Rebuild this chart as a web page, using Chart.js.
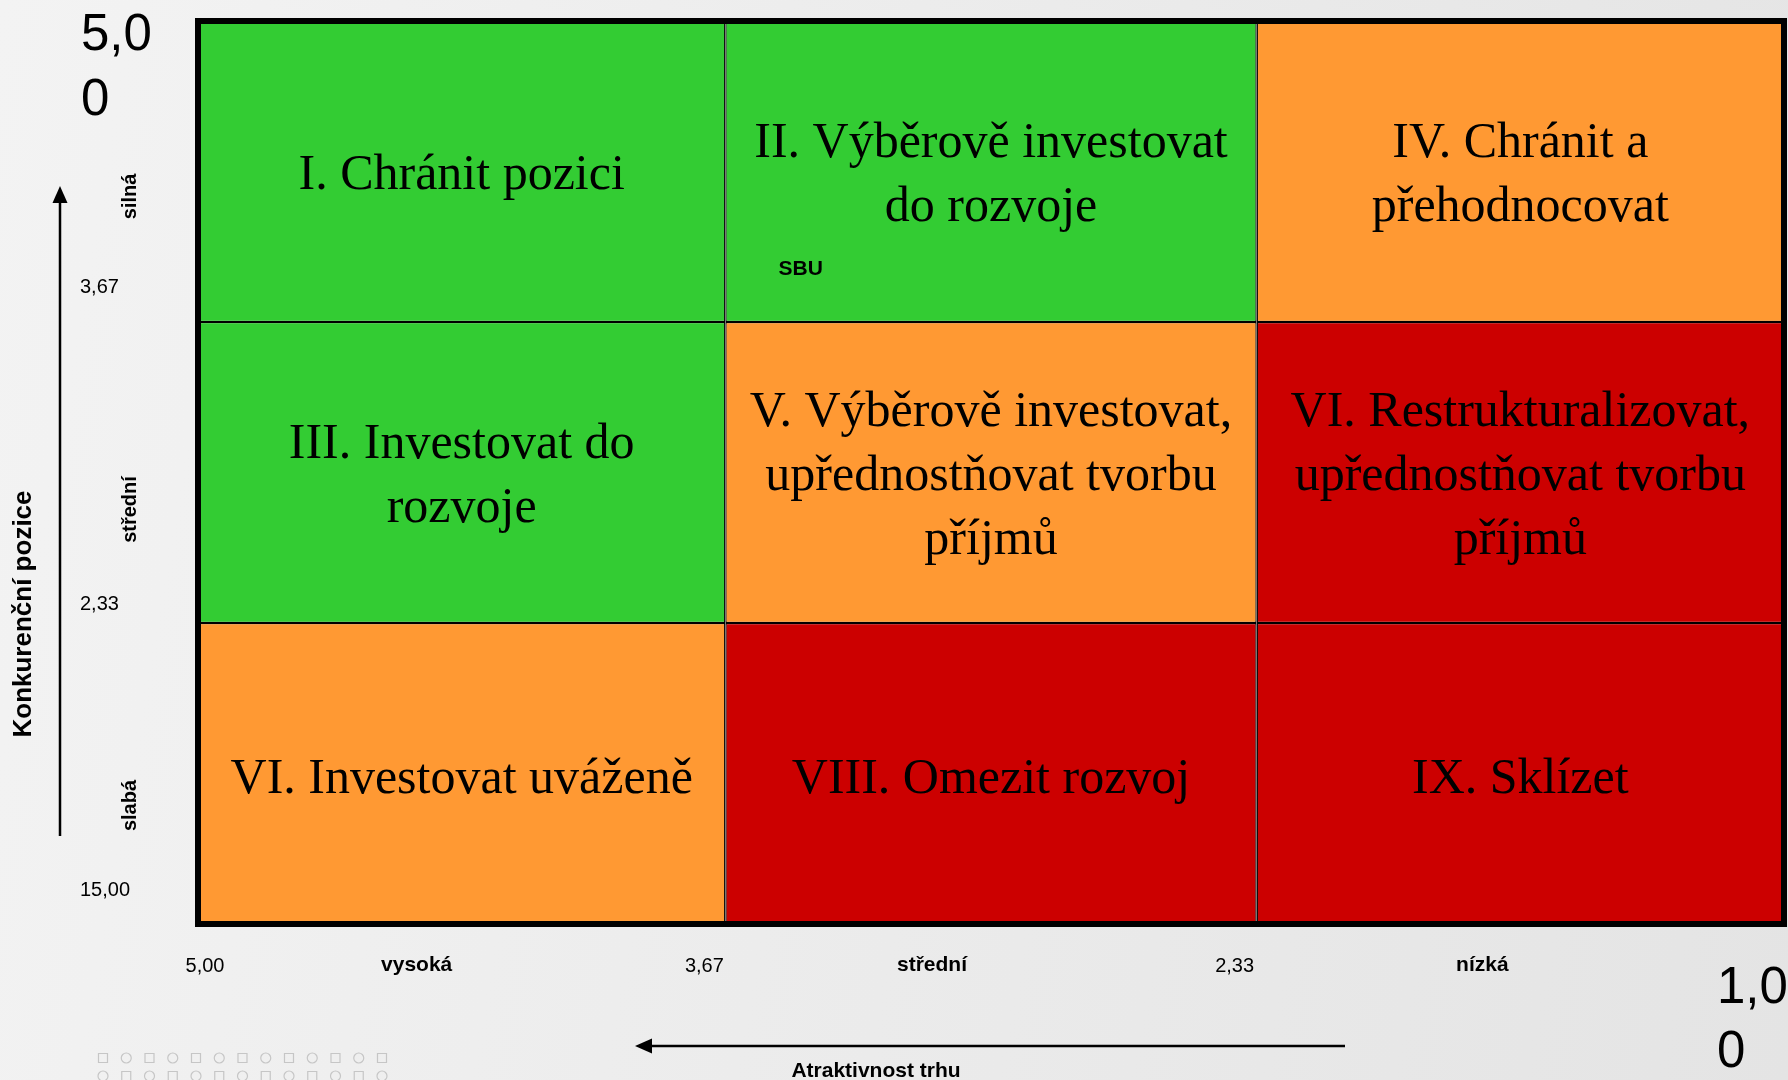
<!DOCTYPE html>
<html><head><meta charset="utf-8">
<script src="https://cdn.jsdelivr.net/npm/chart.js@4/dist/chart.umd.min.js"></script>
<style>
html,body{margin:0;padding:0;width:1788px;height:1080px;overflow:hidden;
background:linear-gradient(100deg,#f3f3f3 0%,#e4e4e4 100%);}
#wrap{position:absolute;left:0;top:0;width:1788px;height:1080px;}
</style></head><body><div id="wrap"><canvas id="c"></canvas></div>
<script>
// ---- data ----
const rowLabels = ['silná','střední','slabá'];          // Konkurenční pozice (top → bottom)
const colLabels = ['vysoká','střední','nízká'];         // Atraktivnost trhu (left → right)
const xEdges = [5, 3.67, 2.33, 1];
const yEdges = [5, 3.67, 2.33, 1];
const xTickLabels = ['5,00','3,67','2,33','1,00'];
const yTickLabels = ['5,00','3,67','2,33','15,00'];
const cellColors = [
  ['#33CC33','#33CC33','#FF9933'],
  ['#33CC33','#FF9933','#CC0000'],
  ['#FF9933','#CC0000','#CC0000']
];
const cellTexts = [
  [['I. Chránit pozici'], ['II. Výběrově investovat','do rozvoje'], ['IV. Chránit a','přehodnocovat']],
  [['III. Investovat do','rozvoje'], ['V. Výběrově investovat,','upřednostňovat tvorbu','příjmů'], ['VI. Restrukturalizovat,','upřednostňovat tvorbu','příjmů']],
  [['VI. Investovat uváženě'], ['VIII. Omezit rozvoj'], ['IX. Sklízet']]
];
const sbuPoints = [{x: 3.48, y: 3.90}];
const sbuLabel = 'SBU';
const xTitle = 'Atraktivnost trhu';
const yTitle = 'Konkurenční pozice';

// ---- datasets ----
const datasets = colLabels.map((c, ci) => ({
  type: 'bar', label: c, indexAxis: 'y', xAxisID: 'x', yAxisID: 'y',
  data: rowLabels.map(() => [xEdges[ci], xEdges[ci + 1]]),
  backgroundColor: cellColors.map(r => r[ci]),
  borderColor: '#000', borderWidth: 1.3, borderSkipped: false,
  barPercentage: 1, categoryPercentage: 1, grouped: false, inflateAmount: 0
}));
datasets.push({type: 'scatter', label: sbuLabel, data: sbuPoints, xAxisID: 'x', yAxisID: 'yv',
  pointRadius: 0, showLine: false});

const SANS = '"Liberation Sans", Arial, sans-serif';
const SERIF = '"Liberation Serif", "Times New Roman", serif';

function wrapText(ctx, text, maxW) {
  const lines = []; let cur = '';
  for (const ch of text) {
    if (cur && ctx.measureText(cur + ch).width > maxW) { lines.push(cur); cur = ch; }
    else cur += ch;
  }
  if (cur) lines.push(cur);
  return lines;
}

const matrixPlugin = {
  id: 'matrix',
  afterDatasetsDraw(chart) {
    const ctx = chart.ctx, a = chart.chartArea;
    ctx.save();
    // cell labels
    ctx.fillStyle = '#000';
    ctx.font = '50px ' + SERIF;
    ctx.textAlign = 'center'; ctx.textBaseline = 'middle';
    colLabels.forEach((c, ci) => {
      chart.getDatasetMeta(ci).data.forEach((el, ri) => {
        const cx = (el.x + el.base) / 2, cy = el.y + 4 + (ri === 2 ? 2 : 0);
        const lines = cellTexts[ri][ci], lh = 64;
        lines.forEach((t, i) => ctx.fillText(t, cx, cy + (i - (lines.length - 1) / 2) * lh));
      });
    });
    // outer frame
    ctx.lineWidth = 6; ctx.strokeStyle = '#000';
    ctx.strokeRect(a.left, a.top, a.right - a.left, a.bottom - a.top);
    // SBU label at point
    ctx.font = 'bold 21px ' + SANS;
    chart.getDatasetMeta(3).data.forEach(p => ctx.fillText(sbuLabel, p.x, p.y));
    ctx.restore();
  },
  afterDraw(chart) {
    const ctx = chart.ctx;
    const xs = chart.scales.x, yc = chart.scales.y, yv = chart.scales.yv;
    ctx.save();
    ctx.fillStyle = '#000';
    // y tick labels (left)
    const yOff = [0, -28, -14, -28];
    yTickLabels.forEach((t, i) => {
      const py = yv.getPixelForValue(yEdges[i]);
      ctx.textAlign = 'left'; ctx.textBaseline = 'alphabetic';
      if (i === 0) {
        ctx.font = '51px ' + SANS;
        wrapText(ctx, t, 78).forEach((l, k) => ctx.fillText(l, 81, py + 29 + k * 65));
      } else {
        ctx.font = '20px ' + SANS;
        ctx.fillText(t, 80, py + yOff[i]);
      }
    });
    // x tick labels (bottom)
    const xOff = [7, -21, -22, 0];
    xTickLabels.forEach((t, i) => {
      const px = xs.getPixelForValue(xEdges[i]);
      ctx.textBaseline = 'alphabetic';
      if (i === xTickLabels.length - 1) {
        ctx.font = '51px ' + SANS; ctx.textAlign = 'left';
        wrapText(ctx, t, 78).forEach((l, k) => ctx.fillText(l, px - 67, 1003 + k * 64));
      } else {
        ctx.font = '20px ' + SANS; ctx.textAlign = 'center';
        ctx.fillText(t, px + xOff[i], 972);
      }
    });
    // row category labels (rotated)
    const rOff = [25, 37, 32];
    ctx.font = 'bold 20px ' + SANS; ctx.textAlign = 'center'; ctx.textBaseline = 'middle';
    rowLabels.forEach((t, i) => {
      const py = yc.getPixelForValue(i) + rOff[i];
      ctx.save(); ctx.translate(130, py); ctx.rotate(-Math.PI / 2); ctx.fillText(t, 0, 0); ctx.restore();
    });
    // column category labels
    const cOff = [-45, -59, -38];
    ctx.font = 'bold 21px ' + SANS;
    colLabels.forEach((t, i) => {
      const px = (xs.getPixelForValue(xEdges[i]) + xs.getPixelForValue(xEdges[i + 1])) / 2 + cOff[i];
      ctx.fillText(t, px, 965);
    });
    // axis titles
    ctx.font = 'bold 26px ' + SANS;
    ctx.save(); ctx.translate(24, 614); ctx.rotate(-Math.PI / 2); ctx.fillText(yTitle, 0, 0); ctx.restore();
    ctx.font = 'bold 21px ' + SANS;
    ctx.fillText(xTitle, 876, 1071);
    // arrows
    ctx.strokeStyle = '#000'; ctx.lineWidth = 2.5;
    ctx.beginPath(); ctx.moveTo(60, 836); ctx.lineTo(60, 198); ctx.stroke();
    ctx.beginPath(); ctx.moveTo(60, 186); ctx.lineTo(52.5, 203); ctx.lineTo(67.5, 203); ctx.closePath(); ctx.fill();
    ctx.beginPath(); ctx.moveTo(1345, 1046); ctx.lineTo(648, 1046); ctx.stroke();
    ctx.beginPath(); ctx.moveTo(635, 1046); ctx.lineTo(652, 1038.5); ctx.lineTo(652, 1053.5); ctx.closePath(); ctx.fill();
    // decorative pattern
    ctx.strokeStyle = '#c6c6c6'; ctx.lineWidth = 1.2;
    for (let r = 0; r < 2; r++) {
      for (let k = 0; k < 13; k++) {
        const cx = 103 + k * 23.25, cy = 1058 + r * 18;
        ctx.beginPath();
        if ((k + r) % 2 === 0) ctx.rect(cx - 4.5, cy - 4.5, 9, 9);
        else ctx.arc(cx, cy, 5, 0, Math.PI * 2);
        ctx.stroke();
      }
    }
    ctx.restore();
  }
};

new Chart(document.getElementById('c'), {
  type: 'bar',
  data: {labels: rowLabels, datasets},
  options: {
    responsive: true, maintainAspectRatio: false, animation: false,
    layout: {padding: {left: 198, top: 21, right: 4, bottom: 156}},
    plugins: {legend: {display: false}, tooltip: {enabled: false}},
    events: [],
    scales: {
      x: {type: 'linear', min: 1, max: 5, reverse: true, offset: false, grace: 0, display: false},
      y: {type: 'category', offset: true, display: false},
      yv: {type: 'linear', min: 1, max: 5, offset: false, display: false, position: 'left'}
    }
  },
  plugins: [matrixPlugin]
});
</script></body></html>
